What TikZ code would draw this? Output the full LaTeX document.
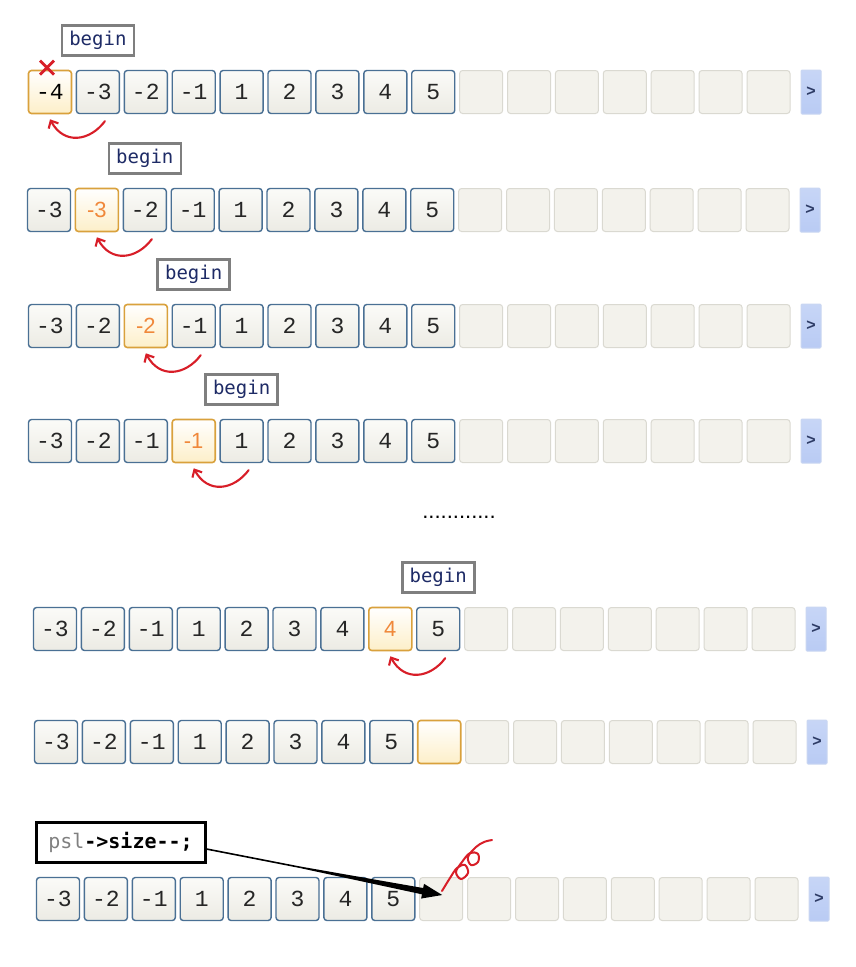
\documentclass[tikz,border=0pt]{standalone}
\usepackage{fontspec}
\setmainfont{Liberation Sans}
\newfontfamily\cellfont{Liberation Mono}
\newfontfamily\codefont{DejaVu Sans Mono}
\usetikzlibrary{arrows.meta,calc,positioning}
\definecolor{cellborder}{HTML}{4A7094}
\definecolor{celltop}{HTML}{FBFBF8}
\definecolor{cellbot}{HTML}{ECEBE4}
\definecolor{hlborder}{HTML}{D9A13C}
\definecolor{hlbot}{HTML}{FDEFC9}
\definecolor{hltext}{HTML}{F0883A}
\definecolor{empborder}{HTML}{DAD9D1}
\definecolor{empfill}{HTML}{F3F2EC}
\definecolor{btnfill}{HTML}{B9CBF4}
\definecolor{btnborder}{HTML}{CAD7F2}
\definecolor{btntext}{HTML}{2E3C66}
\definecolor{beginborder}{HTML}{7F7F7F}
\definecolor{begintext}{HTML}{1E2B66}
\definecolor{penred}{HTML}{D81E28}
\tikzset{
  cellbase/.style={rounded corners=3, minimum width=43, minimum height=43, inner sep=0,
    font=\cellfont\fontsize{23}{26}\selectfont},
  cell/.style={cellbase, draw=cellborder, line width=1.4, top color=celltop, bottom color=cellbot, text=black!85},
  hlk/.style={cellbase, draw=hlborder, line width=1.6, top color=white, bottom color=hlbot},
  hlo/.style={hlk, text=hltext, font=\fontsize{22}{26}\selectfont},
  emp/.style={cellbase, draw=empborder, line width=1, fill=empfill},
  btn/.style={rounded corners=1, minimum width=20, minimum height=44, inner sep=0,
    draw=btnborder, line width=1, top color=btnfill!80, bottom color=btnfill,
    text=btntext, font=\bfseries\fontsize{16}{18}\selectfont},
  beginbox/.style={draw=beginborder, line width=2.6, fill=white, minimum width=72,
    minimum height=30, inner sep=2, text=begintext, font=\codefont\fontsize{19}{22}\selectfont},
  redarr/.style={draw=penred, line width=2.1, line cap=round, -{Straight Barb[length=6pt,width=11pt]}},
}
\newcommand\drawrow[6]{%
  \foreach \v [count=\i] in {#4} {
    \ifnum\i=#5\relax
      \node[#6] (#1-\i) at ({#2+(\i-1)*47.9},#3) {\v};
    \else
      \node[cell] (#1-\i) at ({#2+(\i-1)*47.9},#3) {\v};
    \fi
    \xdef\lastcount{\i}
  }
  \pgfmathtruncatemacro\firstempty{\lastcount+1}
  \foreach \i in {\firstempty,...,16} {
    \node[emp] (#1-\i) at ({#2+(\i-1)*47.9},#3) {};
  }
  \node[btn] (#1-b) at ({#2+15*47.9+42.5},#3) {>};
}
\newcommand\backarrow[2]{%
  \draw[redarr] ($(#1.south)+(7,7)$) .. controls ($(#1.south)+(-8,27)$) and ($(#2.south)+(14,31)$) .. ($(#2.south)+(0,5)$);}
\begin{document}
\begin{tikzpicture}[x=1pt,y=-1pt]
\useasboundingbox (0,0) rectangle (856,967);
\fill[white] (0,0) rectangle (856,967);

\drawrow{r1}{50}{92}{-4,-3,-2,-1,1,2,3,4,5}{1}{hlk}
\drawrow{r2}{49}{210}{-3,-3,-2,-1,1,2,3,4,5}{2}{hlo}
\drawrow{r3}{50}{326}{-3,-2,-2,-1,1,2,3,4,5}{3}{hlo}
\drawrow{r4}{50}{441}{-3,-2,-1,-1,1,2,3,4,5}{4}{hlo}
\drawrow{r5}{55}{629}{-3,-2,-1,1,2,3,4,4,5}{8}{hlo}
\drawrow{r6}{56}{742}{-3,-2,-1,1,2,3,4,5,{}}{9}{hlo}
\drawrow{r7}{58}{899}{-3,-2,-1,1,2,3,4,5}{0}{hlo}

\node[beginbox, above=13pt of r1-2] (b1) {begin};
\node[beginbox, above=13pt of r2-3] (b2) {begin};
\node[beginbox, above=13pt of r3-4] (b3) {begin};
\node[beginbox, above=13pt of r4-5] (b4) {begin};
\node[beginbox, above=13pt of r5-9] (b5) {begin};

\backarrow{r1-2}{r1-1}
\backarrow{r2-3}{r2-2}
\backarrow{r3-4}{r3-3}
\backarrow{r4-5}{r4-4}
\backarrow{r5-9}{r5-8}

% red cross on the first cell
\coordinate (xc) at ($(r1-1.north)+(-3,-2)$);
\draw[penred, line width=2.8] ($(xc)+(-7,-7)$) -- ($(xc)+(7,7)$) ($(xc)+(-7,7)$) -- ($(xc)+(7,-7)$);

\node[font=\fontsize{22}{24}\selectfont] (dots) at (459,517) {............};

% code box and arrow
\node[draw=black, line width=3, fill=white, minimum width=169, minimum height=40, inner sep=3,
      font=\codefont\fontsize{20}{24}\selectfont] (psl) at (120.5,842)
  {\textcolor{gray}{psl}\textbf{->size-{}-;}};
\coordinate (s) at ([yshift=-7pt]psl.east);
\coordinate (tip) at ($(r7-9.center)+(1,-4)$);
\coordinate (hb) at ($(tip)!20pt!(s)$);
\coordinate (m) at ($(s)!0.4!(tip)$);
\draw[line width=1.6] (s) -- (m);
\fill (m) -- ($(m)!0.8pt!90:(tip)$) -- ($(hb)!3.2pt!90:(tip)$) -- ($(hb)!7.5pt!90:(tip)$) -- (tip)
  -- ($(hb)!7.5pt!-90:(tip)$) -- ($(hb)!3.2pt!-90:(tip)$) -- ($(m)!0.8pt!-90:(tip)$) -- cycle;

% red squiggle
\draw[penred, line width=2, line cap=round] plot[smooth, tension=0.6] coordinates {
  (442,891) (450,878) (457,868) (465,865) (468,873) (461,879) (456,872) (462,862)
  (470,853) (478,854) (478,862) (471,865) (468,857) (476,847) (484,842) (492,840)};
\end{tikzpicture}
\end{document}
